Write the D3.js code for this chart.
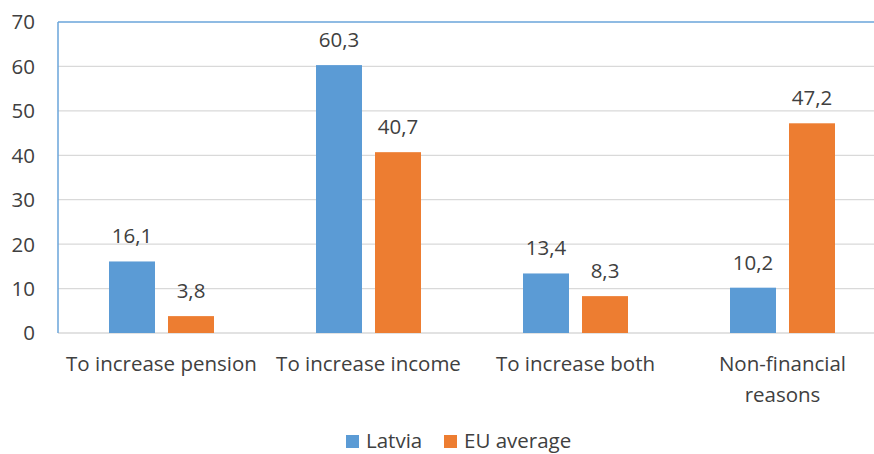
<!DOCTYPE html>
<html><head><meta charset="utf-8">
<script src="https://cdn.jsdelivr.net/npm/d3@7"></script>
<style>body{margin:0;background:#fff;}svg{display:block;font-family:"Open Sans",sans-serif;}</style>
</head><body><svg id="c" width="874" height="454"></svg>
<script>
const categories = [["To increase pension"],["To increase income"],["To increase both"],["Non-financial","reasons"]];
const seriesNames = ["Latvia","EU average"];
const latvia = [16.1, 60.3, 13.4, 10.2];
const euAverage = [3.8, 40.7, 8.3, 47.2];
const yTicks = [0,10,20,30,40,50,60,70];
const colors = ["#5B9BD5","#ED7D31"];

(function(){
const svg = d3.select("#c");
const pLeft = 58, pRight = 886, pTop = 22, pBottom = 333;
const fs = 20.5;
const x = d3.scaleBand().domain(d3.range(categories.length)).range([pLeft, pRight]);
const y = d3.scaleLinear().domain([0,70]).range([pBottom, pTop]);
const barW = 46, gap = 13;
const fmt = v => v.toFixed(1).replace(".", ",");

// grid
svg.append("g").selectAll("line").data(yTicks.filter(t=>t>0 && t<70)).join("line")
  .attr("x1", pLeft).attr("x2", 874).attr("y1", d=>y(d)).attr("y2", d=>y(d))
  .attr("stroke", "#D9D9D9").attr("stroke-width", 1.3);
// bottom axis
svg.append("line").attr("x1", pLeft).attr("x2", 874).attr("y1", y(0)).attr("y2", y(0))
  .attr("stroke", "#D9D9D9").attr("stroke-width", 1.5);
// frame
svg.append("line").attr("x1", pLeft).attr("x2", 874).attr("y1", y(70)).attr("y2", y(70))
  .attr("stroke", "#6AA5DA").attr("stroke-width", 1.5);
svg.append("line").attr("x1", pLeft).attr("x2", pLeft).attr("y1", y(70)).attr("y2", y(0))
  .attr("stroke", "#6AA5DA").attr("stroke-width", 1.5);

// y tick labels
svg.append("g").selectAll("text").data(yTicks).join("text")
  .attr("x", 35).attr("y", d=>y(d)).attr("dy", "0.36em").attr("text-anchor","end")
  .attr("font-size", fs).attr("fill", "#404040").text(d=>d);

const series = [latvia, euAverage];
series.forEach((vals, si) => {
  const g = svg.append("g");
  const bx = i => x(i) + x.bandwidth()/2 + (si===0 ? -gap/2 - barW : gap/2);
  g.selectAll("rect").data(vals).join("rect")
    .attr("x", (d,i)=>bx(i)).attr("width", barW)
    .attr("y", d=>y(d)).attr("height", d=>y(0)-y(d)).attr("fill", colors[si]);
  g.selectAll("text").data(vals).join("text")
    .attr("x", (d,i)=>bx(i)+barW/2).attr("y", d=>y(d)-18)
    .attr("text-anchor","middle").attr("font-size", fs).attr("fill","#404040").text(fmt);
});

// x labels
const xl = svg.append("g").selectAll("text").data(categories).join("text")
  .attr("x", (d,i)=>x(i)+x.bandwidth()/2).attr("y", 371)
  .attr("text-anchor","middle").attr("font-size", fs).attr("fill","#404040");
xl.each(function(lines){
  const t = d3.select(this);
  t.selectAll("tspan").data(lines).join("tspan")
    .attr("x", t.attr("x")).attr("dy", (d,i)=> i===0?0:31).text(d=>d);
});

// legend
const leg = svg.append("g");
const legX = [346, 444];
seriesNames.forEach((n, i) => {
  leg.append("rect").attr("x", legX[i]).attr("y", 435).attr("width", 13).attr("height", 13).attr("fill", colors[i]);
  leg.append("text").attr("x", legX[i]+20).attr("y", 448).attr("font-size", fs).attr("fill","#404040").text(n);
});
})();
</script></body></html>
